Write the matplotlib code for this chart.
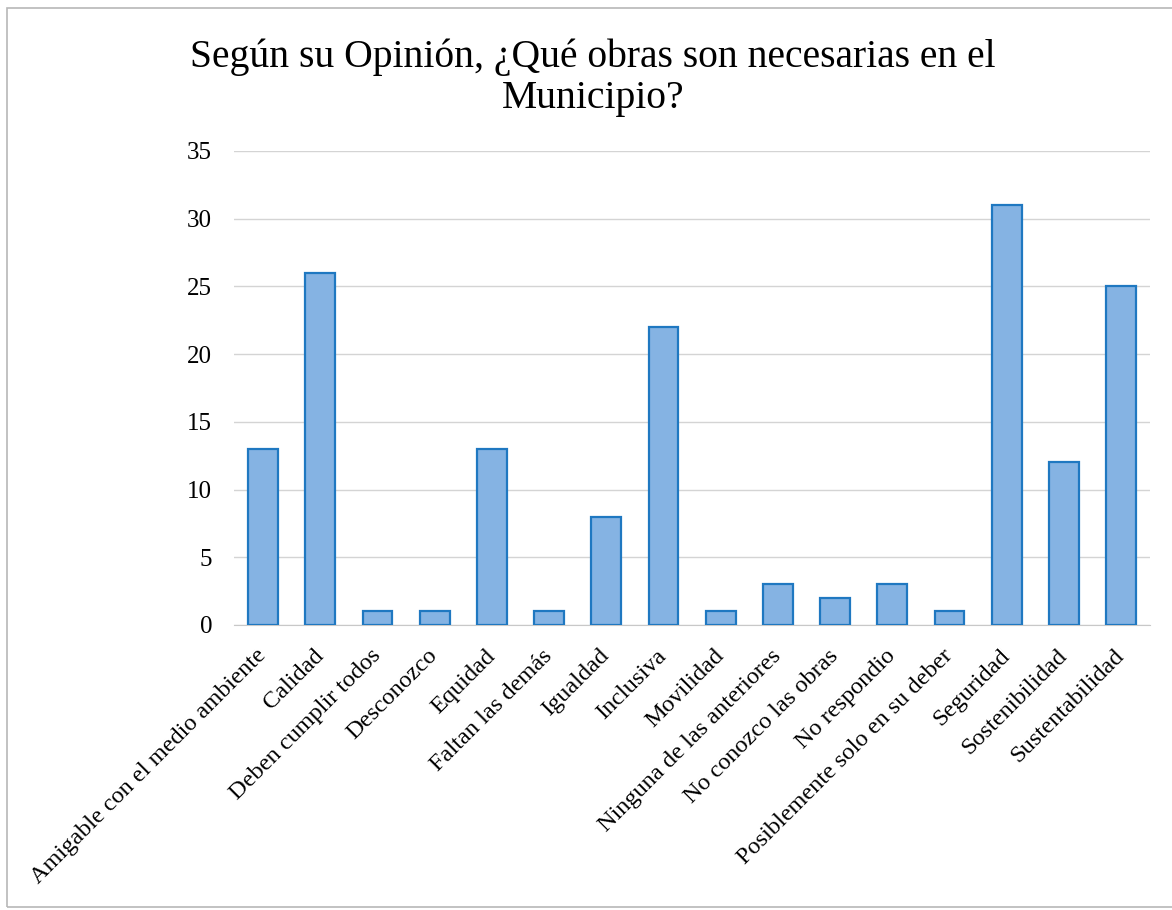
import numpy as np
import matplotlib
matplotlib.use('Agg')
import matplotlib.pyplot as plt
from matplotlib.patches import Rectangle

#--------------------------------------------
# Survey data
#--------------------------------------------

categories = ['Amigable con el medio ambiente', 'Calidad', 'Deben cumplir todos',
              'Desconozco', 'Equidad', 'Faltan las demás', 'Igualdad', 'Inclusiva',
              'Movilidad', 'Ninguna de las anteriores', 'No conozco las obras',
              'No respondio', 'Posiblemente solo en su deber', 'Seguridad',
              'Sostenibilidad', 'Sustentabilidad']
counts = [13, 26, 1, 1, 13, 1, 8, 22, 1, 3, 2, 3, 1, 31, 12, 25]
yticks = [0, 5, 10, 15, 20, 25, 30, 35]
title = 'Según su Opinión, ¿Qué obras son necesarias en el\nMunicipio?'

plt.rcParams['font.family'] = ['Liberation Serif', 'DejaVu Serif']

fig = plt.figure(figsize=(11.72, 9.10), dpi=100)
ax = fig.add_axes([0.2, 0.3132, 0.781, 0.5209])

x = np.arange(len(categories))
ax.bar(x, counts, width=0.52, color='#85b3e3', edgecolor='#1f78c1',
       linewidth=1.6, zorder=3)

ax.set_xlim(-0.5, len(categories) - 0.5)
ax.set_ylim(0, 35)
ax.set_yticks(yticks)
ax.set_yticklabels([str(t) for t in yticks], fontsize=18)
ax.yaxis.grid(True, color='#d4d4d4', linewidth=1.0, zorder=0)
ax.tick_params(axis='y', length=0, pad=16)
ax.tick_params(axis='x', length=0, pad=20)
ax.set_xticks(x)
ax.set_xticklabels(categories, rotation=45, ha='right', va='center',
                   rotation_mode='anchor', fontsize=17.5)

for s in ['top', 'right', 'left']:
    ax.spines[s].set_visible(False)
ax.spines['bottom'].set_color('#c8c8c8')

fig.text(0.506, 0.915, title, ha='center', va='center', fontsize=28.5,
         linespacing=1.15)

# chart frame (right edge lies outside the picture)
fig.patches.append(Rectangle((0.006, 0.003), 1.1, 0.988, transform=fig.transFigure,
                             fill=False, edgecolor='#b8b8b8', linewidth=1.2))

plt.savefig('out.png', dpi=100)
